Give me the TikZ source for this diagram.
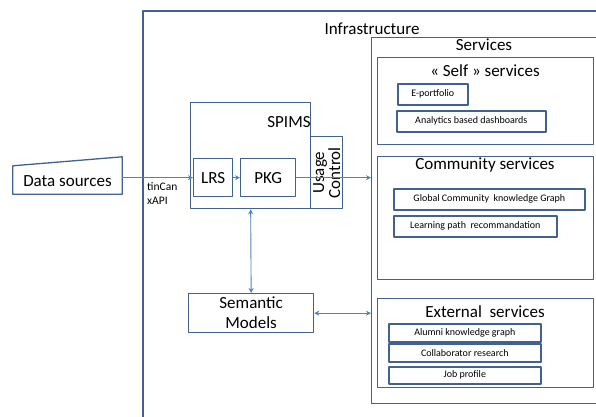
\documentclass[tikz,border=0pt]{standalone}
\usepackage{fontspec}
\setmainfont{Carlito}
\usetikzlibrary{arrows.meta}
\definecolor{boxblue}{HTML}{41618F}
\definecolor{arrowblue}{HTML}{4F81BD}
\tikzset{
	frame/.style={draw=boxblue,line width=1.3pt,anchor=north west,inner sep=0pt,align=center},
	item/.style={frame,line width=1.6pt,minimum height=21,font=\fontsize{10}{12}\selectfont},
	title/.style={inner sep=0pt,font=\fontsize{17}{19}\selectfont},
	link/.style={draw=arrowblue,line width=0.9pt,-{Stealth[length=5pt,width=5pt]}},
	dlink/.style={draw=arrowblue,line width=0.9pt,{Stealth[length=5pt,width=5pt]}-{Stealth[length=5pt,width=5pt]}}
}
\begin{document}
\begin{tikzpicture}[x=1pt,y=-1pt,line join=round,font=\fontsize{17}{19}\selectfont]
	\useasboundingbox (0,0) rectangle (596,416);
	% frames
	\node [frame,line width=1.8pt,minimum width=480,minimum height=430] (infra) at (142,10) {};
	\node [frame,minimum width=240,minimum height=366] (services) at (371,37) {};
	\node [frame,minimum width=216,minimum height=87] (selfsrv) at (377,57) {};
	\node [frame,minimum width=216,minimum height=123] (commsrv) at (377,156) {};
	\node [frame,minimum width=216,minimum height=89] (extsrv) at (377,298) {};
	\node [title] (infratitle) at (372,29) {Infrastructure};
	\node [title] (srvtitle) at (484,45) {Services};
	\node [title] (selftitle) at (485,71) {« Self » services};
	\node [title] (commtitle) at (485,165) {Community services};
	\node [title] (exttitle) at (485,312) {External\ \ services};
	% service items
	\node [item,minimum width=70] (eport) at (397,83) {E-portfolio};
	\node [item,minimum width=149] (dash) at (396,110) {Analytics based dashboards};
	\node [item,minimum width=191] (graph) at (393,188) {Global Community\ \ knowledge Graph};
	\node [item,minimum width=163] (path) at (393,215) {Learning path\ \ recommandation};
	\node [item,minimum width=152,minimum height=18] (alumni) at (388,323) {Alumni knowledge graph};
	\node [item,minimum width=152,minimum height=18] (collab) at (388,343) {Collaborator research};
	\node [item,minimum width=152,minimum height=17] (job) at (388,366) {Job profile};
	% data sources
	\node [inner sep=0pt,minimum width=109,minimum height=26,font=\fontsize{17}{19}\selectfont] (data) at (67.5,181) {Data sources};
	\draw [boxblue,line width=1.3pt] (data.south west) -- (data.south east) -- ([yshift=11pt]data.north east)
		-- ([yshift=2pt]data.north west) -- cycle;
	\node [anchor=west,align=left,inner sep=0pt,font=\fontsize{11.5}{14}\selectfont] (api) at (147,194) {tinCan\\xAPI};
	% SPIMS
	\node [frame,minimum width=120,minimum height=106] (spims) at (190,102) {};
	\node [title] (spimstitle) at (289,122) {SPIMS};
	\node [frame,minimum width=32,minimum height=72] (usage) at (310,136) {};
	\node [rotate=90,align=center,inner sep=0pt,font=\fontsize{17}{16}\selectfont] (usagetext) at (usage.center) {Usage\\Control};
	\node [frame,minimum width=39,minimum height=38] (lrs) at (193,158) {LRS};
	\node [frame,minimum width=55,minimum height=38] (pkg) at (240,158) {PKG};
	\node [frame,minimum width=125,minimum height=39,font=\fontsize{17}{20}\selectfont] (sem) at (188,293) {Semantic\\Models};
	% connectors
	\draw [link] (data.east |- lrs.west) -- (lrs.west);
	\draw [link] (lrs) -- (pkg);
	\draw [link] (pkg.east) -- (pkg.east -| services.west);
	\draw [dlink] (spims.south) -- (sem.north);
	\draw [dlink] (sem.east) -- (sem.east -| services.west);
\end{tikzpicture}
\end{document}
